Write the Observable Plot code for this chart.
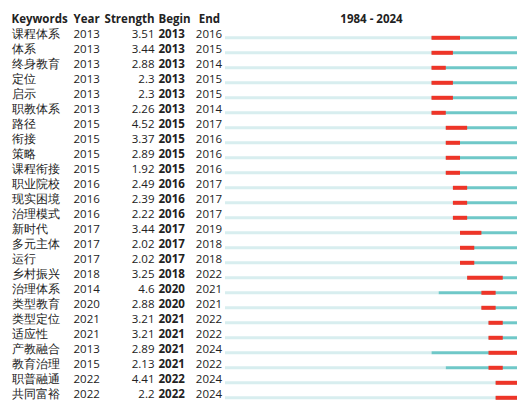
<!DOCTYPE html>
<html><head><meta charset="utf-8">
<script src="https://cdn.jsdelivr.net/npm/d3@7"></script>
<script src="https://cdn.jsdelivr.net/npm/@observablehq/plot@0.6"></script>
<style>body{margin:0;background:#fff;}</style>
</head><body><div id="chart"></div>
<script>
const keywords = ["课程体系","体系","终身教育","定位","启示","职教体系","路径","衔接","策略","课程衔接","职业院校","现实困境","治理模式","新时代","多元主体","运行","乡村振兴","治理体系","类型教育","类型定位","适应性","产教融合","教育治理","职普融通","共同富裕"];
const years = [2013,2013,2013,2013,2013,2013,2015,2015,2015,2015,2016,2016,2016,2017,2017,2017,2018,2014,2020,2021,2021,2013,2015,2022,2022];
const strengths = [3.51,3.44,2.88,2.3,2.3,2.26,4.52,3.37,2.89,1.92,2.49,2.39,2.22,3.44,2.02,2.02,3.25,4.6,2.88,3.21,3.21,2.89,2.13,4.41,2.2];
const begins = [2013,2013,2013,2013,2013,2013,2015,2015,2015,2015,2016,2016,2016,2017,2017,2017,2018,2020,2020,2021,2021,2021,2021,2022,2022];
const ends = [2016,2015,2014,2015,2015,2014,2017,2016,2016,2016,2017,2017,2017,2019,2018,2018,2022,2021,2021,2022,2022,2024,2022,2024,2024];
const headers = ["Keywords","Year","Strength","Begin","End"];
const rangeStart = 1984, rangeEnd = 2024;

const rows = keywords.map((k, i) => ({k, year: years[i], s: String(strengths[i]), b: begins[i], e: ends[i]}));
const HEAD = "__header__";
const head = [{y: HEAD}];
const txt = "#222";

const plot = Plot.plot({
  width: 517, height: 405,
  marginLeft: 225, marginRight: 0, marginTop: 15.5, marginBottom: 8.3,
  x: {domain: [rangeStart, rangeEnd + 1], axis: null},
  y: {type: "point", domain: [HEAD, ...keywords], padding: 0, axis: null},
  style: {fontFamily: "'Open Sans', sans-serif", fontSize: "11.5px", color: txt, background: "#fff"},
  marks: [
    Plot.ruleY(rows, {y: "k", x1: d => rangeStart, x2: "year", stroke: "#d8eeef", strokeWidth: 3, dy: 3.3}),
    Plot.ruleY(rows, {y: "k", x1: "year", x2: d => rangeEnd + 1, stroke: "#6fc8c8", strokeWidth: 3, dy: 3.3}),
    Plot.ruleY(rows, {y: "k", x1: "b", x2: d => d.e + 1, stroke: "#ee3528", strokeWidth: 4, dy: 3.3}),
    // header
    Plot.text(head, {y: "y", text: d => headers[0], frameAnchor: "left", textAnchor: "start", dx: -214, fontWeight: "bold", fill: txt}),
    Plot.text(head, {y: "y", text: d => headers[1], frameAnchor: "left", textAnchor: "start", dx: -152, fontWeight: "bold", fill: txt}),
    Plot.text(head, {y: "y", text: d => headers[2], frameAnchor: "left", textAnchor: "end", dx: -71, fontWeight: "bold", fill: txt}),
    Plot.text(head, {y: "y", text: d => headers[3], frameAnchor: "left", textAnchor: "start", dx: -67, fontWeight: "bold", fill: txt}),
    Plot.text(head, {y: "y", text: d => headers[4], frameAnchor: "left", textAnchor: "middle", dx: -16, fontWeight: "bold", fill: txt}),
    Plot.text(head, {y: "y", x: d => (rangeStart + rangeEnd + 1) / 2, text: d => `${rangeStart} - ${rangeEnd}`, textAnchor: "middle", fontWeight: "bold", fill: txt}),
    // rows
    Plot.text(rows, {y: "k", text: "k", frameAnchor: "left", textAnchor: "start", dx: -214, fill: txt}),
    Plot.text(rows, {y: "k", text: d => String(d.year), frameAnchor: "left", textAnchor: "start", dx: -152, fill: txt}),
    Plot.text(rows, {y: "k", text: "s", frameAnchor: "left", textAnchor: "end", dx: -71, fill: txt}),
    Plot.text(rows, {y: "k", text: d => String(d.b), frameAnchor: "left", textAnchor: "start", dx: -67, fontWeight: "bold", fill: txt}),
    Plot.text(rows, {y: "k", text: d => String(d.e), frameAnchor: "left", textAnchor: "middle", dx: -16.5, fill: txt})
  ]
});
document.getElementById("chart").appendChild(plot);
</script>
</body></html>
